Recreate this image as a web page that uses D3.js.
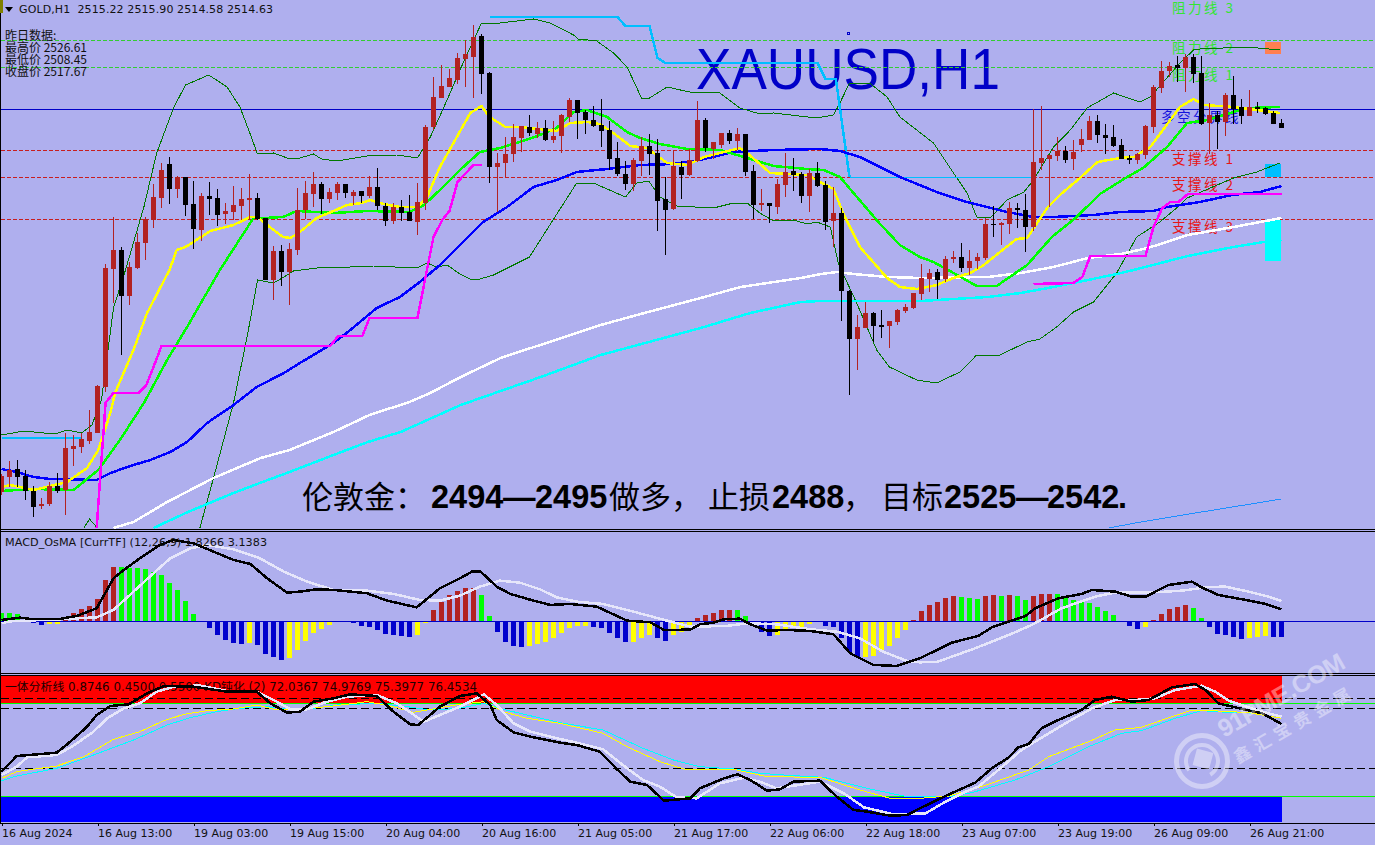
<!DOCTYPE html>
<html><head><meta charset="utf-8">
<script src="https://cdn.jsdelivr.net/npm/d3@7/dist/d3.min.js"></script>
<style>
html,body{margin:0;padding:0;background:#AFAFEE;overflow:hidden}
svg{display:block}
text{font-family:"DejaVu Sans",sans-serif;fill:#111}
</style></head><body>
<svg id="c" width="1375" height="845"></svg>
<script>
// ---------- data ----------
const opens=[2441.6,2444.6,2446.2,2444.8,2441.8,2438.8,2439.2,2442.8,2442,2450.2,
2450.6,2451.8,2453.4,2462.6,2486.2,2490,2480.8,2486.4,2491.4,2496,
2500.4,2507.2,2502.2,2504.6,2499.2,2494,2500.8,2500.4,2497.2,2497.6,
2498.8,2500,2500.4,2496.4,2484,2489.8,2485.6,2490,2498,2501.2,
2503.2,2500.2,2501.4,2503.2,2500.8,2501.8,2500.8,2502.6,2498.8,2495.8,
2498.6,2497.6,2495.6,2499.4,2514.6,2520.4,2522.6,2524,2528.2,2528.6,
2532.8,2525.4,2506.6,2507.4,2509.2,2512.4,2514.6,2513.2,2514.4,2512,
2512.8,2516.6,2520,2517.6,2516,2515,2514,2508.4,2505.2,2503.2,
2507.8,2510.8,2509.4,2500.2,2498.2,2506.6,2505,2507.8,2516,2510.2,
2511,2513.4,2511.8,2513.2,2505.8,2499,2499.4,2498.6,2503,2505.8,
2505.2,2500.8,2505.4,2503,2495.8,2497.4,2481.8,2472.2,2474.4,2477.4,
2475,2474.8,2475.6,2477.8,2478.4,2481.2,2484.2,2485.6,2484.2,2488.2,
2488.6,2486.4,2487.8,2488.4,2495.2,2495,2495.2,2498.4,2498,2494.6,
2507.4,2508.2,2508.8,2509.8,2508.2,2511,2512,2515.8,2513,2512.6,
2511,2508.4,2508,2509,2514.6,2522.4,2525.8,2527,2526.4,2528.6,
2525.4,2515.4,2517,2515.6,2521,2518.6,2516.8,2518.6,2518.4,2517.4,2515.4];
const closes=[2444.8,2446,2444.6,2441.8,2438.6,2439.2,2442.8,2441.8,2450.4,2450.8,
2452.2,2453.6,2462.8,2486.4,2490,2480.8,2486.6,2491.6,2496.2,2500.6,
2506,2502.2,2504.6,2499,2494.2,2500.8,2500.2,2497,2497.8,2499,
2500.2,2500.4,2496.2,2484,2489.8,2485.6,2490.2,2498,2501.4,2503.2,
2500.2,2501.6,2503.2,2501.4,2501.6,2500.8,2502.6,2498.8,2495.8,2498.6,
2497.4,2495.8,2499.6,2514.6,2520.6,2522.8,2524.4,2528.4,2529.2,2532.6,
2525.2,2506.6,2507.4,2509.2,2512.6,2514.8,2513.4,2514.4,2512,2512.8,
2517,2520,2517.4,2516,2514.8,2513.8,2508.2,2505.2,2503.2,2508,
2510.8,2509.2,2499.8,2498,2506.8,2505,2508,2516,2510.4,2511.6,
2513.4,2511.8,2513.2,2505.6,2499,2499.4,2498.8,2503.2,2505.6,2505,
2500.8,2505.4,2502.8,2495.6,2497.4,2481.8,2472.2,2474.6,2477.4,2474.8,
2474.6,2475.8,2478,2478.6,2481.4,2484.4,2485.4,2484,2488.2,2488.6,
2486.4,2487.8,2488.6,2495.2,2495,2495.4,2498.4,2498,2494.6,2507.6,
2508.4,2509,2509.8,2508,2509.6,2512.2,2515.8,2513,2512.4,2510.8,
2508.2,2508,2509.2,2514.8,2522.6,2525.8,2526.8,2526.4,2528.6,2525.2,
2515.2,2517,2515.6,2521,2518.2,2516.8,2518.6,2518.2,2517.2,2515.2,2514.4];
const highs=[2445.2,2447.8,2448,2446,2442.8,2440.4,2443.6,2445.4,2453.4,2453,
2453.4,2458,2463,2487.2,2496.6,2490.6,2487.6,2493.4,2496.6,2503.2,
2507.4,2508.6,2504.8,2504.6,2503.8,2501.4,2503.6,2502.2,2499.4,2502.8,
2502.4,2505.2,2501.4,2496.4,2490.8,2491,2491.4,2502.4,2503.8,2505.6,
2503.6,2502.4,2503.6,2503.2,2502,2501.8,2504.8,2506.4,2499.4,2499.4,
2500,2501,2503.4,2515,2524.6,2527,2526.2,2529.4,2532,2535,
2533.2,2525.6,2509.4,2512.6,2515.2,2514.8,2517,2515.6,2516,2515.8,
2517.2,2520.4,2520,2518,2518.8,2520.2,2515.8,2511.6,2507.8,2508.4,
2512.6,2513.2,2512.2,2504.6,2510,2507.8,2510.2,2519.8,2516.4,2511.6,
2513.4,2514,2514.4,2513.2,2507,2502.2,2499.4,2504.2,2509.4,2508.4,
2505.6,2506.2,2507.6,2503.8,2502.6,2498.4,2482,2477,2479.6,2477.6,
2478,2475.8,2478.2,2479.2,2481.4,2487.2,2486.2,2486.2,2488.8,2489.8,
2491.4,2490,2489.4,2496.4,2498.8,2495.6,2499.6,2499.4,2501.2,2518.2,
2518.8,2509,2512.6,2510.8,2512,2514.2,2516.8,2517,2515.2,2515,
2512.2,2509,2509.4,2515,2523,2527.8,2527.6,2528.8,2529.2,2529.2,
2528.8,2519.4,2517.8,2521.4,2524.8,2520.2,2522,2519.6,2518.6,2517.8,2516.2];
const lows=[2441,2442.6,2442.6,2440,2436.6,2438.2,2438.8,2441.4,2437,2446.8,
2449.4,2451.2,2453.4,2461.6,2479.4,2469,2479,2486.2,2488,2494.4,
2498.4,2499.2,2500.4,2496.8,2490.2,2491.8,2497,2494.8,2495.2,2496,
2496,2496,2496,2484,2480,2482.8,2479,2489,2496.2,2498.6,
2497.2,2499.4,2500,2500.4,2499,2499.4,2500.4,2498,2494.8,2495.2,
2495.8,2495.8,2493,2498,2514,2520.4,2522.6,2523.2,2522.6,2520.4,
2521.2,2503.4,2497.6,2504.6,2507.6,2509.6,2512.8,2512.4,2511.8,2511.4,
2509.4,2515.6,2512.2,2513.2,2514.6,2510.6,2506,2504.8,2502,2501.8,
2504.8,2505,2493.8,2489,2498,2500.2,2504.8,2507.6,2509.6,2508.2,
2510.4,2511.2,2510,2504.8,2496.2,2497.8,2495.4,2497.2,2500.6,2501.8,
2499.4,2497.6,2502.6,2494,2490.6,2475.8,2461,2466,2474.4,2471.6,
2472.4,2470.4,2475,2477.4,2478.2,2480,2481.6,2480.2,2483.6,2487.4,
2485.6,2485,2486.2,2488,2492.6,2491,2493.2,2494.4,2489.6,2493.8,
2506,2498.6,2507.8,2507.4,2506,2509.6,2512,2511.4,2509.2,2510.6,
2508.2,2507.2,2507.2,2508.2,2513.4,2521.4,2524.6,2523.6,2521.6,2523.4,
2515,2509.2,2510.2,2512.8,2515.2,2515.2,2516.8,2517.4,2517,2515.2,2514.4];

const maFast=[[0,2442.6],[1.1,2443],[4,2442],[8.2,2443.6],[10.7,2446.4],[12.1,2450],[13.6,2457.4],[14.2,2461.4],[16.5,2470],[18.2,2477.4],[21,2486],[21.9,2490],[23,2490.6],[26.1,2493.8],[29,2495],[31.1,2496.6],[32,2496.6],[33.2,2495],[35.2,2492.6],[36.1,2492.4],[37.3,2493.6],[39.4,2496.4],[41.5,2497.8],[43.2,2499],[45,2499.4],[46.1,2500],[47.8,2499.2],[49.8,2498.6],[52,2498.6],[53.2,2500.6],[54.8,2506.6],[56.5,2511.4],[58.6,2517.4],[60,2518.8],[61,2516.6],[63,2514.6],[64.8,2514.6],[69.4,2513.8],[71.1,2515.4],[73.2,2515.6],[74.8,2515.2],[76.5,2513.4],[78.6,2510.8],[80.7,2510.4],[83.2,2507.4],[85.7,2507],[87.8,2508.6],[90.3,2509.6],[92.3,2510.4],[93.2,2509.4],[96.1,2505.4],[98.2,2505.2],[100.7,2505],[104,2502.2],[105.2,2497.4],[107.3,2490.6],[110.7,2484.4],[112.3,2482.6],[114.4,2482.2],[116.9,2483],[119,2484.4],[121.1,2485.4],[122.8,2487],[124.8,2489.6],[126.9,2492.2],[128.2,2492.4],[130.7,2498.4],[132.3,2501],[134.8,2504.4],[137,2507.6],[139.8,2508.4],[141.5,2508.6],[143.6,2510.6],[147.3,2518.6],[149,2520.2],[150.3,2519],[154,2518.6],[159.8,2517.4]];
const maMid=[[0,2441.8],[4,2442.2],[9,2442],[12.1,2446],[14.8,2452],[17.8,2459.4],[20.7,2468],[23.2,2474.6],[27.3,2486],[31.5,2496.4],[32.8,2496.4],[35.2,2496.6],[36.9,2497.8],[41.5,2497.4],[45.7,2497.8],[51,2497.6],[52.8,2499],[54.8,2502],[57.3,2506],[59.8,2509.6],[62.3,2510.4],[64.8,2511.6],[67.3,2513],[69.4,2514.4],[71.5,2517.6],[73.2,2518],[75.7,2516.6],[78.2,2513.6],[79.8,2512.4],[82.3,2511.2],[85.7,2510.2],[89.8,2510],[91.5,2509.2],[94,2508],[96.5,2506.8],[100.7,2506.2],[102.8,2506],[104.8,2504.6],[109.6,2495.6],[112.3,2491],[114.8,2488.6],[116.5,2487.6],[119,2485.4],[121.9,2482.8],[124.4,2482.8],[128.2,2487],[131.3,2492.6],[134.4,2496.6],[137.3,2501.2],[140.7,2504.6],[142.7,2506.4],[145.7,2510.6],[148.2,2515.4],[150.7,2516],[155.7,2518.4],[159.8,2518.6]];
const maBlue=[[0,2446.2],[1.9,2445.6],[4,2444.6],[6.1,2444.2],[11.9,2444],[13.6,2445.4],[16.5,2447],[18.6,2448],[21.1,2449.6],[23.2,2451.6],[25.7,2455.4],[29,2459],[31.9,2462.6],[35.3,2465.4],[37.3,2467.4],[41.5,2471.4],[43.6,2474],[46.9,2478.4],[49.8,2480.6],[52.3,2483.6],[54.8,2487],[60.2,2495.6],[63.2,2498.6],[66.5,2502.6],[69.4,2504],[71.9,2505.6],[75.7,2506.2],[79.8,2507],[84,2507.2],[87.3,2508],[91.5,2509.6],[96.5,2510],[102.3,2510.2],[104.8,2509.8],[107.3,2508.6],[112.3,2504.6],[116.9,2501.6],[120.2,2499.8],[123.2,2498.6],[125.7,2497.6],[129,2496.6],[131.5,2496.6],[136.5,2497],[139.8,2497.6],[144,2497.8],[145.7,2498.6],[149.8,2499.6],[153.8,2501],[157.3,2501.6],[160,2502.8]];
const maWhite=[[14,2434.4],[16.5,2435.6],[20.7,2439.6],[26.5,2444.4],[32.4,2448.4],[36,2450],[41.5,2453.6],[46,2457],[51,2459.6],[53.6,2461.4],[57.4,2464.6],[62.4,2468.4],[74.9,2475],[79.9,2477.2],[87.4,2480.4],[92.4,2482.6],[99.9,2484.4],[102.4,2485.2],[104.5,2485.6],[106.5,2485.2],[110.8,2484.6],[114.9,2484.4],[123.3,2484.6],[127.4,2485.4],[131.5,2486.6],[135.8,2488.4],[139.9,2489.2],[143.3,2490.4],[148.3,2493],[154,2494.6],[160,2496.4]];
const maCyan=[[19,2434.4],[23.3,2437.6],[29,2441.4],[33.3,2444],[36,2445.6],[41.5,2449],[45.8,2451.6],[49.9,2453.6],[52.4,2455.4],[57.4,2459],[67.4,2464.6],[74.9,2469],[87.4,2474.4],[93.6,2477.4],[99.9,2479.6],[102.4,2479.8],[114.9,2479.8],[119,2480.2],[123.3,2480.6],[127.4,2481.4],[131.5,2482.6],[135.8,2484],[139.4,2485.2],[141.5,2486],[148.3,2488.8],[154,2490.6],[157.8,2491.6],[160,2492]];
const magentaA=[[11.9,2434.4],[12.4,2446],[12.8,2454.6],[13,2459.4],[14,2461.4],[17.1,2461.4],[18.1,2463],[19,2466.6],[20,2470.8],[41.1,2470.8],[42.1,2472.8],[45.1,2472.8],[46,2476.4],[52,2476.4],[53,2484.6],[54,2492.6],[55.1,2496],[56,2497.8],[57,2503.6],[59,2507],[60,2507]];
const magentaB=[[129,2483.2],[134,2483.4],[135.1,2484.6],[136.1,2488.8],[143,2488.8],[144,2494.6],[145.1,2498.4],[146.1,2499.6],[147.1,2499.6],[148.3,2501.2],[160,2501.2]];
const skyA=[[0,2452.4],[10,2452.4]];
const skyB=[[61,2536.6],[77,2536.6],[78,2534.8],[81,2534.8],[82,2528.4],[83,2527.4],[102,2527.4],[103,2524.2],[104.3,2524.2],[106,2504.6]];
const skyThin=[[106,2504.6],[129,2504.6]];
const longBlue=[[138.4,2434.4],[142.4,2435.6],[150,2437.6],[160,2440.2]];
const bandUpper=[[0,2453],[2.8,2453.8],[5.3,2453.4],[7.1,2453.4],[8.2,2454],[10,2453.4],[11.3,2455],[12.5,2460],[14,2478.4],[15.5,2486],[17.8,2498.6],[19.4,2509.4],[21.5,2518.4],[23,2523],[25.9,2525],[28.2,2522.6],[29.8,2518.6],[30.9,2514],[32,2509.2],[34,2509.4],[35.7,2508.4],[37.3,2508.4],[39,2509.2],[40,2508.2],[41.9,2507.8],[45.7,2508.8],[49.4,2509],[52,2508.4],[53.6,2512.6],[55.7,2520],[57.3,2526],[60,2535.4],[62.3,2535.4],[66.5,2536.2],[68.6,2535.4],[71.5,2533],[72.1,2532.2],[74.4,2531.8],[76.5,2529.4],[78.2,2526.6],[80,2520.4],[81,2520.4],[83.2,2522.6],[86,2521.6],[89.8,2521.4],[92.3,2518.4],[94.8,2517.2],[96.5,2517.4],[101.9,2516.4],[104,2517],[104.8,2519.4],[106,2523.4],[108.5,2523.4],[110.7,2520.6],[112.3,2516.6],[114.4,2514],[116.5,2511.4],[119,2505.4],[120.7,2501.4],[121.9,2496.6],[123.6,2496.4],[125.7,2500],[127.8,2501.6],[129,2504],[131.5,2510.6],[133.6,2514],[135.7,2518.4],[139,2521.4],[142.3,2519.6],[143.6,2520.6],[147.3,2527.4],[149,2530],[149.8,2530.2],[155.7,2530.6],[159.8,2530]];
const bandLowerA=[[10.3,2434.4],[11,2436.2],[12,2434.4]];
const bandLowerB=[[24.8,2434.4],[26.5,2444.4],[29,2459.4],[30.7,2472.6],[32,2484],[34,2483.4],[35.3,2484.6],[36.5,2485.8],[39.4,2486.4],[43.6,2486.6],[46.5,2486.8],[51.9,2486.4],[53.2,2487.4],[54.4,2486.6],[55.7,2487],[57.3,2485.2],[58.6,2484.2],[59.8,2484.2],[61.5,2485],[66,2488.6],[68.3,2494.4],[71.9,2503.4],[74,2503.4],[75.7,2502.2],[78,2500.6],[79.4,2503.4],[80.9,2503.8],[82.3,2500.6],[84.4,2498.8],[89,2498.4],[91.5,2499.4],[93.2,2499.4],[94.8,2497.4],[96.5,2495.8],[99,2496],[100.7,2495.2],[101.9,2495.6],[103.6,2494.6],[104.6,2487.4],[105.5,2484.2],[106.9,2479.4],[109.4,2470],[111,2466.6],[114.4,2464],[116.9,2463.4],[119.8,2465.6],[121.9,2469],[124.8,2469],[128.2,2471.6],[129.8,2472.2],[131.9,2474.6],[134,2477.6],[136.5,2479.6],[139,2484.6],[139.4,2485.4],[141.9,2492.6],[144.8,2495.6],[146.9,2498.4],[148.2,2500.4],[154,2504.4],[156.9,2505.6],[159.8,2507.4]];
const priceLevels=[2531.8,2526.6,2518.2,2509.8,2504.6,2496.2];
const tickBars=[0,12,24,36,48,60,72,84,96,108,120,132,144,156];
const tickLabels=["16 Aug 2024","16 Aug 13:00","19 Aug 03:00","19 Aug 15:00","20 Aug 04:00","20 Aug 16:00","21 Aug 05:00","21 Aug 17:00","22 Aug 06:00","22 Aug 18:00","23 Aug 07:00","23 Aug 19:00","26 Aug 09:00","26 Aug 21:00"];
const macdHist=[1.6,1.6,1.4,0,-0.2,-0.73,-0.53,-0.5,0.3,1.6,2.47,3.07,4.47,8.27,10.87,10.87,10.67,10.6,10.47,9.87,9.27,7.67,6.27,4.07,1.47,0,-1.33,-2.73,-3.73,-4.33,-4.4,-4.3,-4.73,-6.53,-7.13,-7.73,-7.33,-5.73,-3.93,-2.33,-1.53,-0.73,0,0,-0.33,-0.93,-1.13,-1.73,-2.53,-2.73,-2.93,-3.13,-2.73,-0.2,2.27,3.87,5.27,6.07,6.67,6.7,5.27,1.07,-2.13,-4.13,-4.93,-4.95,-4.9,-4.53,-4.13,-3.33,-2.33,-1.33,-0.93,-0.9,-1.13,-1.33,-2.33,-3.33,-4.13,-4.1,-3.33,-2.73,-3.33,-3.93,-2.73,-2.13,-0.73,0.67,1.27,1.67,2.27,2.3,2.27,1.07,-0.1,-2.13,-2.93,-2.73,-1.73,-1.13,-1.1,-0.53,0,-0.93,-1.13,-3.33,-6.13,-7.13,-7.1,-6.93,-6.13,-4.93,-3.33,-1.73,0.27,2.07,3.27,3.87,4.67,5.07,4.87,4.67,4.47,5.07,5.27,5.07,5.27,5.07,4.27,5.07,5.47,5.5,5.47,4.67,4.27,3.87,3.67,2.87,2.07,1.27,0,-0.93,-1.53,-1.13,0.27,1.47,2.47,2.87,3.27,2.67,0.67,-1.13,-2.53,-2.73,-3.13,-3.53,-3.33,-3.13,-2.93,-2.95,-2.97];
const macdMain=[[0,0.27],[2.3,0.73],[3.6,0.47],[7.3,0.47],[9.4,1.07],[11.9,2.6],[14,8.6],[15.3,10.27],[17.3,12.6],[19.8,15.27],[21.5,16.27],[24,15.6],[26.5,13.93],[29,12.27],[31.1,11.47],[33.2,8.6],[35.7,5.73],[37.3,5.93],[39.4,6.4],[41.5,6.27],[45.7,5.6],[48.2,4.13],[51.9,2.8],[54.8,6.6],[57.3,8.6],[58.8,9.93],[59.9,9.93],[61.9,6.93],[63.6,5.47],[66.5,4.13],[68.6,3.27],[71.1,3.47],[74.4,2.93],[78.2,0.13],[81.1,-0.2],[82.8,-1.73],[86.1,-1.67],[87.3,-0.6],[89,-0.27],[90.3,0.4],[92.3,0.53],[93.6,-0.6],[95.7,-1.87],[98.2,-1.73],[101.1,-1.93],[104,-2.6],[106.1,-6.4],[109,-8.73],[111.9,-8.93],[114.8,-7.4],[118.8,-4.27],[122.1,-2.93],[123.8,-1.2],[128,1.07],[129.2,2.6],[132.1,4.6],[135,5.47],[136.3,6.27],[139.2,5.93],[141.3,4.93],[143,4.93],[145.9,7.27],[148.8,7.93],[150,6.8],[152.1,5.27],[156,4.13],[158,3.47],[160,2.4]];
const macdSignal=[[0,-0.4],[1.1,0],[7.3,0.4],[11.9,0.8],[14,2.27],[16.5,5.93],[19,9.6],[21.1,12.6],[23.6,14.6],[25.7,15.27],[29,14.4],[32.3,12.6],[35.3,9.93],[38.2,7.93],[41.5,6.27],[45.7,6.13],[49,5.47],[52.3,4.27],[54.8,4.13],[57.3,5.13],[59.8,6.93],[62.3,8.13],[64.8,7.73],[67.3,6.4],[69.4,4.8],[71.9,3.93],[75.2,3.47],[79,1.93],[83.2,0.13],[86.1,-1.07],[90.7,-0.93],[93.2,-0.4],[96.9,-0.6],[101.1,-1.6],[104.4,-2.07],[107.3,-3.4],[110.2,-6.07],[113.2,-7.93],[114.8,-8.2],[116.9,-8.13],[118.8,-7.07],[121.7,-5.4],[125.9,-2.73],[128.8,-0.73],[132.5,2.6],[136.7,4.93],[139.2,5.73],[143.4,5.73],[147.6,6.13],[150.9,6.87],[153,6.93],[155.9,5.93],[158.4,4.93],[160,4.07]];
const kdBlack=[[0,43.4],[1.9,52.8],[6.9,54.8],[8.6,61.4],[10.7,70.4],[11.9,77.4],[13.6,82.8],[15.9,83.8],[18.2,90.4],[20.3,94.8],[24,94.4],[28.2,91.4],[31.9,91.4],[33.6,84.4],[35.7,78.8],[37.3,79.4],[39,85.4],[41.5,87.4],[43.6,89.8],[46.9,88.8],[49,79.4],[51.1,71.8],[52.1,71.4],[54.8,82.4],[57.3,88.8],[59.4,90.4],[61.1,83.4],[61.9,74.4],[64,67],[66.1,64.4],[68.2,62.4],[69.8,60.8],[71.9,59.4],[74.8,55.4],[76.9,45],[78.6,37.4],[80.7,35.4],[82.8,26],[86.1,27.4],[87.3,33.4],[90.3,39.4],[92,41.8],[93.6,38.4],[95.7,32],[97.3,32.8],[99,37.4],[102.3,38],[104.4,28.4],[106.5,20.4],[108.2,19.4],[111.1,17],[113.2,17.4],[114.8,21.4],[118,28.8],[121.7,36.8],[123.8,45.4],[125.9,52],[127.1,58],[128.4,60],[130,69.4],[132.1,74.4],[135,80.4],[136.7,86.4],[138.8,88.4],[141.3,85.4],[143.4,86.4],[146.3,94],[149.2,96],[150.5,92.4],[152.1,84.4],[156,80],[157.6,78.4],[160,72]];
const kdWhite=[[0,41.4],[1.9,46.4],[3.2,52],[6.9,53.4],[8.8,58.4],[11.5,67.4],[13.2,75.4],[15.3,81.4],[17.3,84.4],[19.4,91.4],[21.9,94.8],[24.8,95],[28.2,91.8],[31.9,91.4],[34.4,85.4],[36.1,80.8],[38.2,80.8],[40.3,84.8],[43.2,88.4],[46.9,89.4],[49.4,84.4],[52.8,73.4],[57.3,82.4],[60.3,89.8],[61.9,83.4],[64,72.4],[66.1,67.4],[69.8,63],[71.9,60.8],[75.2,56.8],[78.2,45.4],[80.2,38.4],[82.3,34.4],[84.4,28],[86.9,27.4],[89.8,36.4],[92.8,39.8],[94.8,37.4],[96.9,33.4],[102.3,37.4],[105.3,30.4],[107.8,22],[111.5,17.8],[114.8,18.4],[115.5,18.4],[118,25.4],[120.5,31.4],[122.1,34.4],[124.6,44.4],[127.5,56.4],[130.9,66.4],[133,72.4],[136.3,81.4],[139.2,86.4],[141.7,86.4],[144.2,87.4],[146.7,92.4],[150,95],[151.7,91.4],[153.4,86],[157.1,80],[160,76.4]];
const kdYellow=[[0,39.4],[1.9,43.4],[6.9,46.8],[10.3,52.4],[14,62.8],[17.3,67.4],[20.3,74],[22.8,77.8],[25.7,80],[29,81],[31.9,83.4],[34.4,80.4],[37.3,80.8],[41.5,82.8],[45.7,85.4],[48.6,82.8],[51.5,79],[57.3,83.8],[60.3,85.4],[62.7,79.4],[65.7,75.4],[69.8,72.4],[75.2,66.4],[78.2,58.4],[82.3,49.4],[85.7,44.4],[91.5,44.8],[95.7,40.4],[102.3,40],[107.3,32.4],[111.1,27.4],[114.8,27.4],[118.4,28.8],[122.5,34.4],[128.4,44.4],[130.9,52.4],[135.9,61.4],[139.2,68.4],[142.5,70],[146.3,76.4],[148.8,80.4],[151.3,80],[155.9,78.8],[160,75.4]];
const kdCyan=[[0,38],[1.9,40.8],[6.9,45.4],[11.5,53.4],[16.5,62.4],[20.7,71.4],[23.6,75.8],[26.9,79.4],[29.8,81.4],[33.2,82.4],[35.7,80.8],[39,81.4],[41.9,83.4],[46.9,84.4],[50.7,82.4],[53.6,80.4],[57.3,81.4],[60.3,84.4],[62.7,80.8],[69.8,72.8],[75.2,68.4],[80.2,57.4],[84,50.4],[87.3,46.4],[91.5,45],[94.8,42.4],[99,41],[102.8,40],[108.2,33.4],[113.2,28.4],[114.8,28.4],[118.4,28.4],[121.3,30.8],[126.7,38.4],[130.9,46.4],[135.9,58.4],[140,66.4],[142.5,68],[146.7,75.4],[150,80],[153.8,78.8],[158,78.4],[160,77]];
const kdDashes=[87.4,81.4,45.4];
const kdSolid=[84.4,28.4];
const kdZoneHigh=[100.8,84.8];
const kdZoneLow=[28.4,13];

// ---------- scales ----------
const W=1375;
const x=d3.scaleLinear().domain([0,160]).range([1.5,1281.5]);
const yP=d3.scaleLinear().domain([2434,2540]).range([530,0]);
const yM=d3.scaleLinear().domain([-10,18]).range([671.3,531.3]);
const yK=d3.scaleLinear().domain([0,100]).range([844,677.33]);
const svg=d3.select("#c");
const defs=svg.append("defs");
defs.append("clipPath").attr("id","mainClip").append("rect").attr("x",1).attr("y",0).attr("width",W).attr("height",529);

const C={red:"#b22222",band:"#007800",lime:"#00ff00",blue:"#0000ff",deep:"#0000cd",sky:"#00bfff"};
function path(g,data,scale,color,w){
  g.append("path").datum(data).attr("fill","none").attr("stroke",color).attr("stroke-width",w)
   .attr("shape-rendering","crispEdges").attr("stroke-linejoin","round")
   .attr("d",d3.line().x(d=>x(d[0])).y(d=>scale(d[1])));
}
function hline(g,y,color,dash,w){
  g.append("line").attr("x1",1).attr("x2",W).attr("y1",Math.floor(y)+.5).attr("y2",Math.floor(y)+.5)
   .attr("stroke",color).attr("stroke-width",w||1).attr("stroke-dasharray",dash||null).attr("shape-rendering","crispEdges");
}
function label(g,t,px,py,size,color,extra){
  const e=g.append("text").attr("x",px).attr("y",py).attr("font-size",size).style("fill",color||"#111").text(t);
  if(extra)for(const k in extra)e.style(k,extra[k]);
  return e;
}

// ---------- main panel ----------
const main=svg.append("g").attr("clip-path","url(#mainClip)");
label(main,"XAUUSD,H1",696,89,57,"#0000c8",{"font-family":"Liberation Sans"}).attr("textLength",304).attr("lengthAdjust","spacingAndGlyphs");
main.append("rect").attr("x",847).attr("y",32).attr("width",2).attr("height",2).attr("fill","none").attr("stroke","#0000c8").attr("stroke-width",1).attr("shape-rendering","crispEdges");

const levelColors=["#32cd32","#32cd32","#0000c8","#c81e1e","#c81e1e","#c81e1e"];
priceLevels.forEach((p,i)=>hline(main,yP(p),levelColors[i],i==2?null:"4 2"));

const cjk={"font-family":"'Noto Sans CJK SC'","letter-spacing":"2.5px"};
[["阻力线 3",1172,13,"#32e632"],["阻力线 2",1172,53,"#32e632"],["阻力线 1",1172,80,"#32e632"],
 ["多空分界线",1161,122,"#1414dc"],["支撑线 1",1172,164,"#e81414"],["支撑线 2",1172,190,"#e81414"],["支撑线 3",1172,232,"#e81414"]]
 .forEach(r=>label(main,r[0],r[1],r[2],13.5,r[3],cjk));

const zoneRects=[[2531.6,2529.2,"#ff7f50"],[2507.2,2504.6,"#00bfff"],[2496,2487.8,"#00ffff"]];
main.selectAll("rect.zone").data(zoneRects).join("rect").attr("class","zone")
 .attr("x",x(158)-0.5).attr("width",16).attr("y",d=>yP(d[0])).attr("height",d=>yP(d[1])-yP(d[0])).attr("fill",d=>d[2]);

path(main,bandUpper,yP,C.band,1);
path(main,bandLowerA,yP,C.band,1);
path(main,bandLowerB,yP,C.band,1);
path(main,longBlue,yP,"#1e90ff",1);
path(main,skyA,yP,C.sky,2.5);
path(main,skyB,yP,C.sky,2.5);
path(main,skyThin,yP,C.sky,1);
path(main,maCyan,yP,"#00ffff",2.5);
path(main,maWhite,yP,"#ffffff",2.5);
path(main,maBlue,yP,C.blue,2.5);
path(main,maMid,yP,C.lime,2.5);
path(main,maFast,yP,"#ffff00",2.5);
path(main,magentaA,yP,"#ff00ff",2.5);
path(main,magentaB,yP,"#ff00ff",2.5);

const bars=d3.range(opens.length);
const col=i=>closes[i]>=opens[i]?C.red:"#000";
main.selectAll("rect.wick").data(bars).join("rect").attr("class","wick")
 .attr("x",i=>x(i)-.5).attr("width",1).attr("y",i=>yP(highs[i])).attr("height",i=>yP(lows[i])-yP(highs[i]))
 .attr("fill",col).attr("shape-rendering","crispEdges");
main.selectAll("rect.body").data(bars).join("rect").attr("class","body")
 .attr("x",i=>x(i)-2.5).attr("width",5)
 .attr("y",i=>yP(Math.max(opens[i],closes[i])))
 .attr("height",i=>Math.max(1,Math.abs(yP(opens[i])-yP(closes[i]))))
 .attr("fill",col).attr("shape-rendering","crispEdges");

// header texts
main.append("path").attr("d","M5 7H13L9 12Z").attr("fill","#000");
label(main,"GOLD,H1  2515.22 2515.90 2514.58 2514.63",19,13,11,"#111",{"white-space":"pre"}).attr("textLength",254);
const daily=main.append("text").attr("font-size",12).style("font-family","'Noto Sans CJK SC'").style("fill","#111");
[["昨日数据:",40],["最高价 2526.61",52],["最低价 2508.45",64],["收盘价 2517.67",76]]
 .forEach(r=>daily.append("tspan").attr("x",5).attr("y",r[1]).text(r[0]));

// bottom message
const msg=main.append("text").attr("y",508).attr("font-size",31).style("fill","#000");
[["伦敦金：",302,0],["2494",431,1],["—",503,1],["2495",535,1],["做多，",609,0],["止损",708,0],["2488",772,1],["，",843,0],["目标",881,0],["2525",944,1],["—",1016,1],["2542",1047,1],[".",1118,1]]
 .forEach(s=>msg.append("tspan").attr("x",s[1]).text(s[0])
   .style("font-family",s[2]?"'Liberation Sans'":"'Noto Sans CJK SC'")
   .style("font-weight",s[2]?"700":"400")
   .style("font-size",s[2]?"32.5px":"31px"));

// ---------- MACD panel ----------
const macd=svg.append("g");
hline(macd,yM(0),"#0000c8");
macd.selectAll("rect").data(macdHist).join("rect")
 .attr("x",(d,i)=>x(i)-2.5).attr("width",5)
 .attr("y",d=>d>=0?yM(d):yM(0)+.5)
 .attr("height",d=>Math.abs(yM(d)-yM(0)))
 .attr("fill",(d,i)=>{const p=i?macdHist[i-1]:Infinity;return d>0?(d>p?C.red:C.lime):(d<p?C.deep:"#ffff00");})
 .attr("shape-rendering","crispEdges");
path(macd,macdSignal,yM,"#e6e6fa",2.5);
path(macd,macdMain,yM,"#000",2.5);
label(macd,"MACD_OsMA [CurrTF] (12,26,9) 1.8266 3.1383",5,546,11.2).attr("textLength",262);

// ---------- KD panel ----------
const kd=svg.append("g");
[[kdZoneHigh,"#ff0000"],[kdZoneLow,"#0000ff"]].forEach(z=>{
  kd.append("rect").attr("x",1).attr("width",x(160)+0.5-1).attr("y",yK(z[0][0])).attr("height",yK(z[0][1])-yK(z[0][0])).attr("fill",z[1]).attr("shape-rendering","crispEdges");
});
label(kd,"一体分析线 0.8746 0.4500 0.5500  KD钝化 (2) 72.0367 74.9769 75.3977 76.4534",5,691,11.8,"#200000",{"font-family":"'DejaVu Sans','Noto Sans CJK SC'"}).attr("textLength",472);
kdDashes.forEach(v=>hline(kd,yK(v),"#000","8 4"));
kdSolid.forEach(v=>hline(kd,yK(v),"#00ff00"));
path(kd,kdCyan,yK,"#00ffff",1);
path(kd,kdYellow,yK,"#ffff00",1);
path(kd,kdWhite,yK,"#e6e6fa",2.5);
path(kd,kdBlack,yK,"#000",2.5);

// ---------- frame ----------
const frame=svg.append("g").attr("shape-rendering","crispEdges");
[529,531,673,675].forEach(y=>frame.append("line").attr("x1",0).attr("x2",W).attr("y1",y+.5).attr("y2",y+.5).attr("stroke","#000"));
frame.append("line").attr("x1",.5).attr("x2",.5).attr("y1",0).attr("y2",823).attr("stroke","#000");
frame.append("rect").attr("x",0).attr("y",0).attr("width",3).attr("height",13).attr("fill","#808000");

const axis=d3.axisBottom(x).tickValues(tickBars).tickSize(3).tickFormat(b=>tickLabels[tickBars.indexOf(b)]);
const ag=svg.append("g").attr("transform","translate(0,823)").call(axis);
ag.select(".domain").remove();
ag.selectAll("line").attr("stroke","#000").attr("shape-rendering","crispEdges");
ag.selectAll("text").attr("text-anchor","start").attr("x",0).attr("y",6).attr("dy","0.71em").attr("font-size",11).style("font-size","11px").style("fill","#111");
svg.append("line").attr("x1",0).attr("x2",W).attr("y1",823.5).attr("y2",823.5).attr("stroke","#000").attr("shape-rendering","crispEdges");

// ---------- watermark ----------
const wm=svg.append("g").attr("opacity",.4).attr("pointer-events","none");
wm.append("circle").attr("cx",1202).attr("cy",761).attr("r",25.5).attr("fill","none").attr("stroke","#fff").attr("stroke-width",5);
wm.append("path").attr("d",d3.arc()({innerRadius:14,outerRadius:18,startAngle:-2.2,endAngle:2.6})).attr("transform","translate(1202,761)").attr("fill","#fff");
wm.append("rect").attr("x",-8.5).attr("y",-8.5).attr("width",17).attr("height",17).attr("fill","#fff").attr("transform","translate(1203,759) rotate(15)");
wm.append("text").attr("transform","translate(1224,738) rotate(-30)").attr("font-size",25).style("fill","#fff").style("font-family","'Liberation Sans'").style("font-weight","700").attr("textLength",142).text("91PME.COM");
wm.append("text").attr("transform","translate(1238,764) rotate(-30)").attr("font-size",17).style("fill","#fff").style("font-family","'Noto Sans CJK SC'").style("font-weight","700").style("letter-spacing","6px").text("鑫汇宝贵金属");
</script>
</body></html>
